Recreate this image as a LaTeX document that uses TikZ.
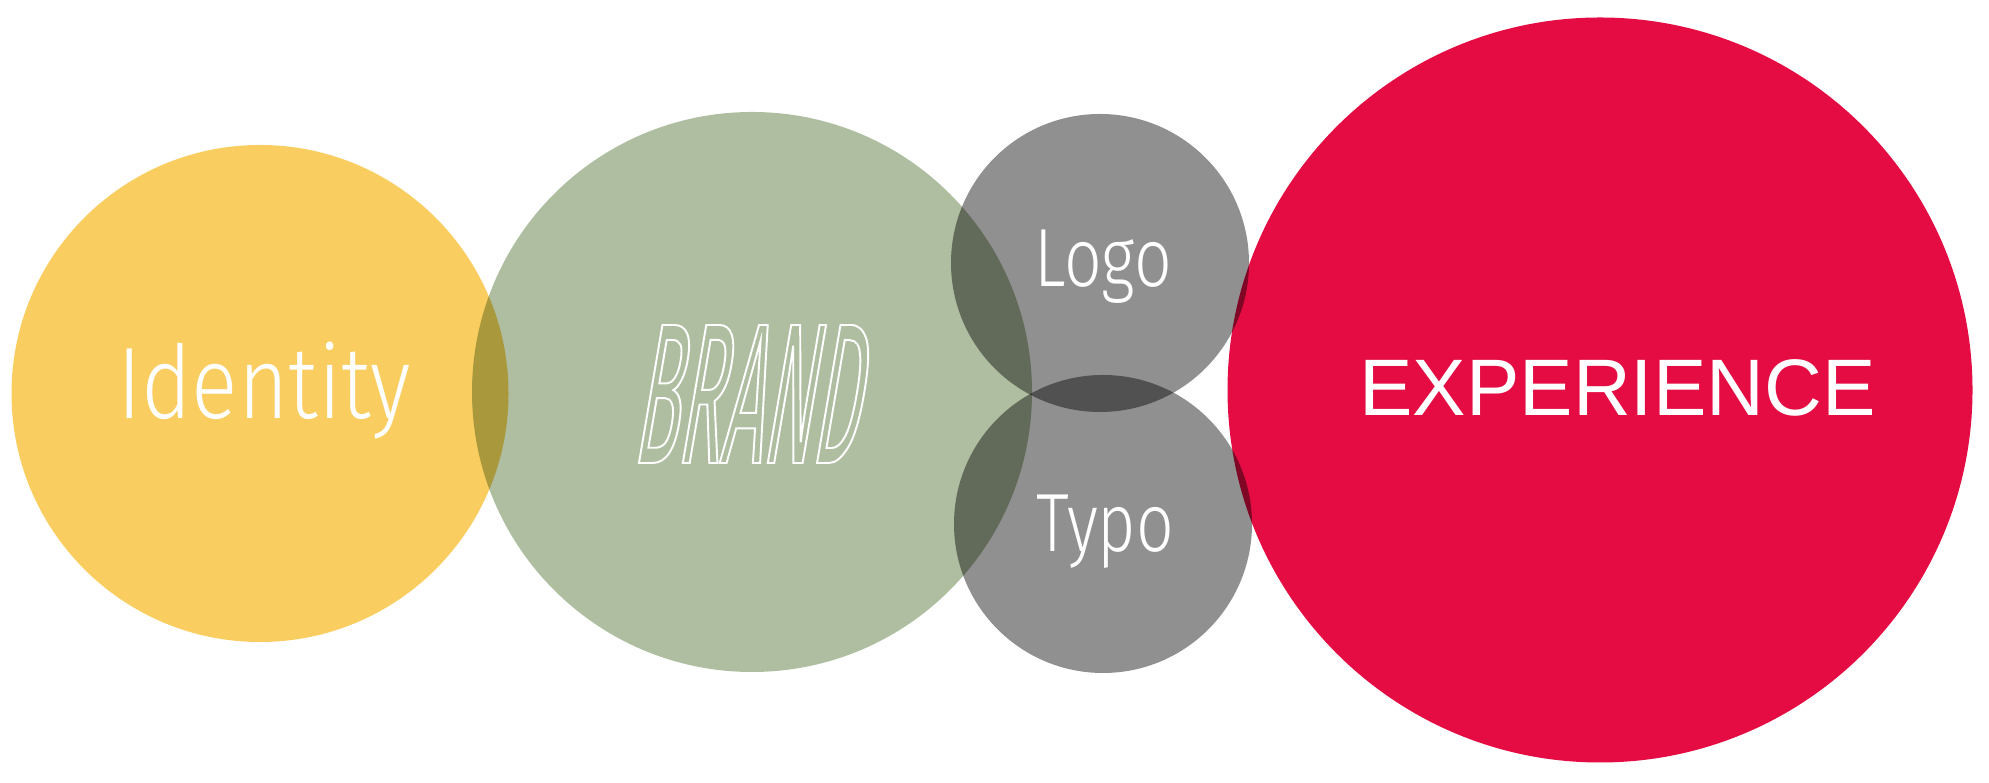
\documentclass[tikz,border=0pt]{standalone}
\usepackage{fontspec}
\usepackage{xcolor}
\usepackage{tikz}
\setmainfont{Liberation Sans}
\newfontfamily\thinsans{Fira Sans}[UprightFont={* Light}, FakeStretch=0.8]
\newfontfamily\identsans{Fira Sans}[UprightFont={* Light}, FakeStretch=0.85]
\newfontfamily\brandfont{Fira Sans}[FakeStretch=0.36, FakeSlant=0.17]

\definecolor{identityyellow}{RGB}{249,205,96}
\definecolor{brandgreen}{RGB}{175,190,161}
\definecolor{partgray}{RGB}{144,144,144}
\definecolor{experiencered}{RGB}{228,12,67}

\begin{document}
\begin{tikzpicture}
		\useasboundingbox (0,0) rectangle (19.89,7.83);

		% Koordinaten
		\coordinate (identity) at (2.60,3.895);
		\coordinate (brand) at (7.52,3.91);
		\coordinate (logo) at (11.00,5.20);
		\coordinate (typo) at (11.03,2.59);
		\coordinate (experience) at (16.00,3.93);

		% Kreise
		\begin{scope}[blend group=multiply]
			\fill[identityyellow] (identity) circle (2.485);
			\fill[brandgreen] (brand) circle (2.80);
			\fill[partgray] (logo) circle (1.49);
			\fill[partgray] (typo) circle (1.49);
			\fill[experiencered] (experience) circle (3.725);
		\end{scope}

		% Beschriftung
		\node[anchor=base, inner sep=0, text=white, font=\identsans\fontsize{28.9}{30}\selectfont] (identitylabel) at (2.64,3.64) {Identity};
		\node[anchor=base, inner sep=0, text=white, font=\brandfont\fontsize{57}{60}\selectfont] (brandlabel) at (7.44,3.20) {\special{pdf:literal direct 1 Tr 0.55 w 1 1 1 RG}BRAND\special{pdf:literal direct 0 Tr}};
		\node[anchor=base, inner sep=0, text=white, font=\thinsans\fontsize{23.5}{25}\selectfont] (logolabel) at (11.03,4.96) {Logo};
		\node[anchor=base, inner sep=0, text=white, font=\thinsans\fontsize{23.5}{25}\selectfont] (typolabel) at (11.055,2.31) {Typo};
		\node[anchor=base, inner sep=0, text=white, font=\fontsize{22.8}{25}\selectfont] (experiencelabel) at (16.175,3.67) {EXPERIENCE};
\end{tikzpicture}
\end{document}
